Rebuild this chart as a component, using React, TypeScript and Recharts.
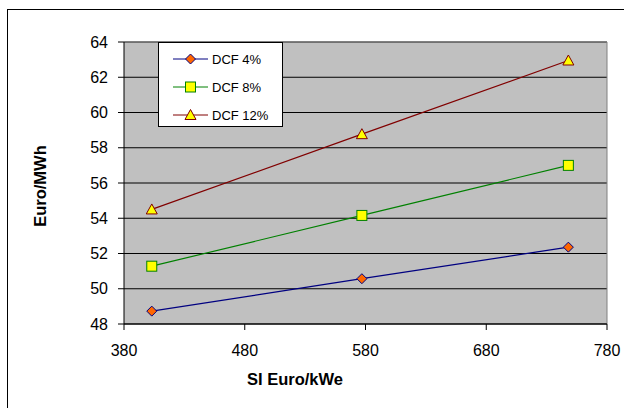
import { LineChart, Line, XAxis, YAxis, CartesianGrid, Legend, ReferenceLine } from 'recharts';

// investment cost (x) and generation cost for three discount rates
const siEuroKwe = [403, 577, 748];
const dcf4 = [48.73, 50.57, 52.36];
const dcf8 = [51.28, 54.16, 57.0];
const dcf12 = [54.5, 58.77, 62.95];

const xTicks = [380, 480, 580, 680, 780];
const yTicks = [48, 50, 52, 54, 56, 58, 60, 62, 64];

const seriesNames = ['DCF 4%', 'DCF 8%', 'DCF 12%'];

const chartData = siEuroKwe.map((x, i) => ({
    x,
    dcf4: dcf4[i],
    dcf8: dcf8[i],
    dcf12: dcf12[i],
}));

const font = '"Liberation Sans", Arial, sans-serif';

function Diamond({ cx, cy }: any) {
    if (cx == null || cy == null) return null;
    return (
        <path
            d={`M${cx},${cy - 5}L${cx + 5},${cy}L${cx},${cy + 5}L${cx - 5},${cy}Z`}
            fill="#FF6600"
            stroke="#000080"
            strokeWidth={1}
        />
    );
}

function Square({ cx, cy }: any) {
    if (cx == null || cy == null) return null;
    return <rect x={cx - 5} y={cy - 5} width={10} height={10} fill="#FFFF00" stroke="#008000" strokeWidth={1} />;
}

function Triangle({ cx, cy }: any) {
    if (cx == null || cy == null) return null;
    return (
        <path
            d={`M${cx},${cy - 5.5}L${cx + 5.5},${cy + 4.5}L${cx - 5.5},${cy + 4.5}Z`}
            fill="#FFFF00"
            stroke="#800000"
            strokeWidth={1}
        />
    );
}

const series = [
    { key: 'dcf4', name: seriesNames[0], color: '#000080', Marker: Diamond },
    { key: 'dcf8', name: seriesNames[1], color: '#008000', Marker: Square },
    { key: 'dcf12', name: seriesNames[2], color: '#800000', Marker: Triangle },
];

function LegendBox() {
    return (
        <div
            style={{
                width: 123,
                height: 81,
                border: '1px solid #000',
                background: '#fff',
                fontFamily: font,
                fontSize: 13,
                paddingTop: 2,
                boxSizing: 'content-box',
            }}
        >
            {series.map(s => (
                <div key={s.key} style={{ height: 28, display: 'flex', alignItems: 'center' }}>
                    <svg width={52} height={14} style={{ display: 'block' }}>
                        <line x1={14} y1={7} x2={49} y2={7} stroke={s.color} strokeWidth={1} />
                        <s.Marker cx={31.5} cy={7} />
                    </svg>
                    <span style={{ marginLeft: 1 }}>{s.name}</span>
                </div>
            ))}
        </div>
    );
}

export default function App() {
    return (
        <div
            style={{
                position: 'absolute',
                left: 0,
                top: 0,
                width: 624,
                height: 408,
                overflow: 'hidden',
                background: '#fff',
            }}
        >
            <div
                style={{
                    position: 'absolute',
                    left: 7,
                    top: 9,
                    width: 700,
                    height: 500,
                    border: '1px solid #000',
                }}
            />
            <div style={{ position: 'absolute', left: 0, top: 0 }}>
                <LineChart
                    width={624}
                    height={408}
                    data={chartData}
                    margin={{ top: 42, right: 17, bottom: 0, left: 0 }}
                >
                    <CartesianGrid
                        vertical={false}
                        stroke="#000"
                        fill="#C0C0C0"
                        fillOpacity={1}
                    />
                    <XAxis
                        dataKey="x"
                        type="number"
                        domain={[380, 780]}
                        ticks={xTicks}
                        height={84}
                        stroke="#000"
                        tickSize={6}
                        tickMargin={15}
                        tick={{ fill: '#000', fontSize: 16, fontFamily: font }}
                        label={{
                            content: () => (
                                <text
                                    x={295}
                                    y={385}
                                    textAnchor="middle"
                                    fontFamily={font}
                                    fontSize={16.5}
                                    fontWeight="bold"
                                    fill="#000"
                                >
                                    SI Euro/kWe
                                </text>
                            ),
                        }}
                    />
                    <YAxis
                        type="number"
                        domain={[48, 64]}
                        ticks={yTicks}
                        width={124}
                        stroke="#000"
                        tickSize={6}
                        tickMargin={10}
                        tick={{ fill: '#000', fontSize: 16, fontFamily: font }}
                        label={{
                            content: () => (
                                <text
                                    x={46}
                                    y={186}
                                    transform="rotate(-90 46 186)"
                                    textAnchor="middle"
                                    fontFamily={font}
                                    fontSize={16.5}
                                    fontWeight="bold"
                                    fill="#000"
                                >
                                    Euro/MWh
                                </text>
                            ),
                        }}
                    />
                    <ReferenceLine y={64} stroke="#808080" />
                    <ReferenceLine x={780} stroke="#808080" />
                    <Legend
                        layout="vertical"
                        align="center"
                        verticalAlign="middle"
                        wrapperStyle={{ left: 158, top: 42, width: 125, height: 83 }}
                        content={() => <LegendBox />}
                    />
                    {series.map(s => (
                        <Line
                            key={s.key}
                            type="linear"
                            dataKey={s.key}
                            name={s.name}
                            stroke={s.color}
                            strokeWidth={1.2}
                            dot={(p: any) => <s.Marker key={`${s.key}-${p.index}`} cx={p.cx} cy={p.cy} />}
                            activeDot={false}
                            isAnimationActive={false}
                        />
                    ))}
                </LineChart>
            </div>
        </div>
    );
}
